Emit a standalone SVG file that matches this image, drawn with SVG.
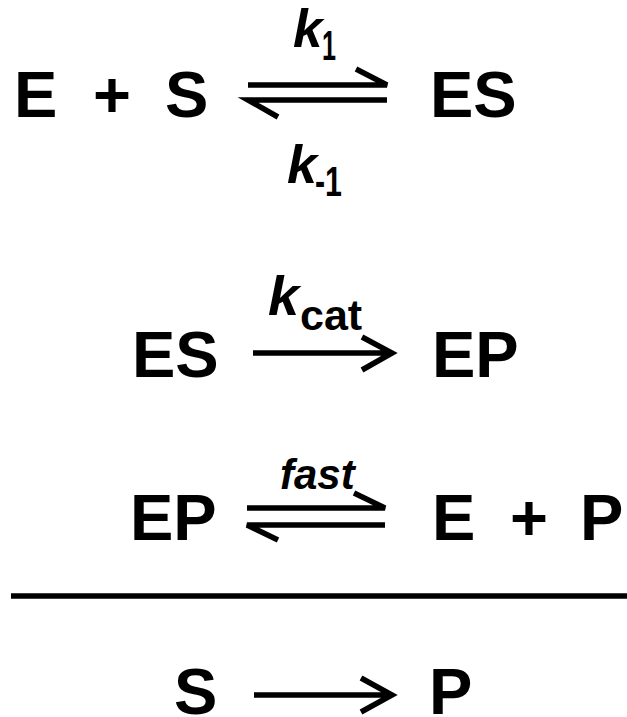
<svg xmlns="http://www.w3.org/2000/svg" width="627" height="717" viewBox="0 0 627 717">
<style>
.t{font-family:"Liberation Sans",Arial,sans-serif;font-weight:bold;font-size:65px;fill:#000}
.k{font-family:"Liberation Sans",Arial,sans-serif;font-weight:bold;font-style:italic;fill:#000}
.s{font-family:"Liberation Sans",Arial,sans-serif;font-weight:bold;fill:#000}
.a{stroke:#000;stroke-width:5.5;fill:none;stroke-linecap:butt}
</style>
<rect width="627" height="717" fill="#fff"/>
<g id="row1">
<text class="t" x="14" y="117">E</text>
<text class="t" x="93" y="117">+</text>
<text class="t" x="165" y="117">S</text>
<text class="t" x="430" y="117">ES</text>
<text class="k" x="293" y="47" font-size="53">k</text>
<text class="s" x="322" y="60" font-size="42" textLength="14" lengthAdjust="spacingAndGlyphs">1</text>
<text class="k" x="287" y="183" font-size="54">k</text>
<text class="s" x="315" y="196" font-size="42" textLength="27" lengthAdjust="spacingAndGlyphs">-1</text>
</g>
<g id="row2">
<text class="t" x="132" y="377">ES</text>
<text class="t" x="432" y="377">EP</text>
<text class="k" x="268" y="315" font-size="56">k</text>
<text class="s" x="300" y="330" font-size="43">cat</text>
</g>
<g id="row3">
<text class="t" x="130" y="540">EP</text>
<text class="t" x="432" y="540">E</text>
<text class="t" x="510" y="540">+</text>
<text class="t" x="580" y="540">P</text>
<text class="k" x="280" y="489" font-size="42">fast</text>
</g>
<g id="row4">
<text class="t" x="174" y="714">S</text>
<text class="t" x="429" y="714">P</text>
</g>
<g id="connectors">
<path class="a" d="M248 85H387L356 69"/>
<path class="a" d="M387 100H248L278 117"/>
<path class="a" d="M253 353H392M362 337L392 353L362 370"/>
<path class="a" d="M247 508H385L354 493"/>
<path class="a" d="M385 525H247L278 540"/>
<line class="a" x1="11" y1="596" x2="627" y2="596"/>
<path class="a" d="M254 695H392M361 678L392 695L361 712"/>
</g>
</svg>
